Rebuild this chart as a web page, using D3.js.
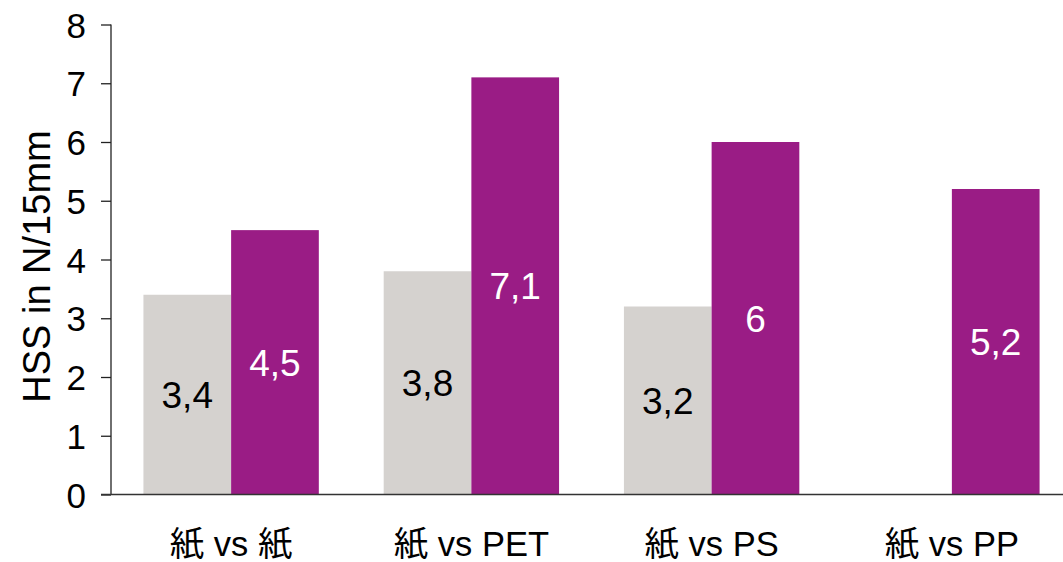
<!DOCTYPE html>
<html>
<head>
<meta charset="utf-8">
<script src="https://cdn.jsdelivr.net/npm/d3@7"></script>
<style>
  html, body { margin: 0; padding: 0; background: #fff; }
  svg { display: block; font-family: "Liberation Sans", Arial, "Noto Sans CJK JP", sans-serif; }
</style>
</head>
<body>
<svg id="chart" width="1063" height="562"></svg>
<script>
const categories = ["紙 vs 紙", "紙 vs PET", "紙 vs PS", "紙 vs PP"];
const seriesNames = ["gray", "purple"];
const grayValues = [3.4, 3.8, 3.2, null];
const purpleValues = [4.5, 7.1, 6.0, 5.2];
const grayLabels = ["3,4", "3,8", "3,2", null];
const purpleLabels = ["4,5", "7,1", "6", "5,2"];
const yTicks = [0, 1, 2, 3, 4, 5, 6, 7, 8];
const yTitle = "HSS in N/15mm";

(function () {
const svg = d3.select("#chart");
const W = 1063, H = 562;
const mLeft = 111, mRight = 1072, mTop = 24.5, mBottom = 494.5;

const x = d3.scaleBand().domain(categories).range([mLeft, mRight]).paddingInner(0.27).paddingOuter(0.135);
const xs = d3.scaleBand().domain(seriesNames).range([0, x.bandwidth()]);
const y = d3.scaleLinear().domain([0, 8]).range([mBottom, mTop]);

const colors = { gray: "#d5d2cf", purple: "#9a1c85" };
const labelColors = { gray: "#000", purple: "#fff" };

const rows = [];
categories.forEach((c, i) => {
  if (grayValues[i] != null) rows.push({ cat: c, s: "gray", v: grayValues[i], lab: grayLabels[i] });
  if (purpleValues[i] != null) rows.push({ cat: c, s: "purple", v: purpleValues[i], lab: purpleLabels[i] });
});

svg.append("g").selectAll("rect").data(rows).join("rect")
  .attr("x", d => x(d.cat) + xs(d.s))
  .attr("y", d => y(d.v))
  .attr("width", xs.bandwidth())
  .attr("height", d => y(0) - y(d.v))
  .attr("fill", d => colors[d.s]);

svg.append("g").selectAll("text").data(rows).join("text")
  .attr("x", d => x(d.cat) + xs(d.s) + xs.bandwidth() / 2)
  .attr("y", d => (y(d.v) + y(0)) / 2)
  .attr("dy", "0.36em")
  .attr("text-anchor", "middle")
  .attr("font-size", 37)
  .attr("fill", d => labelColors[d.s])
  .text(d => d.lab);

// y axis
const yAxis = d3.axisLeft(y).tickValues(yTicks).tickSize(10).tickPadding(15).tickFormat(d3.format("d"));
const gy = svg.append("g").attr("transform", `translate(${mLeft},0)`).call(yAxis);
gy.select(".domain").attr("stroke", "#222").attr("stroke-width", 1.3).attr("d", `M0,${mTop}H0V${mBottom}`);
gy.selectAll(".tick line").attr("stroke", "#222").attr("stroke-width", 1.3);
gy.selectAll(".tick text").attr("font-size", 35).attr("fill", "#000").attr("dy", "0.36em")
  .attr("font-family", "Liberation Sans, Arial, sans-serif");

// baseline
svg.append("line")
  .attr("x1", mLeft - 10).attr("x2", W)
  .attr("y1", y(0)).attr("y2", y(0))
  .attr("stroke", "#333").attr("stroke-width", 1.5);

// x labels
svg.append("g").selectAll("text").data(categories).join("text")
  .attr("x", d => x(d) + x.bandwidth() / 2)
  .attr("y", 556)
  .attr("text-anchor", "middle")
  .attr("font-size", 34.5)
  .attr("fill", "#000")
  .text(d => d);

// y title
svg.append("text")
  .attr("transform", `translate(50,${(128 + 405) / 2}) rotate(-90)`)
  .attr("text-anchor", "middle")
  .attr("font-size", 38)
  .attr("fill", "#000")
  .text(yTitle);
})();
</script>
</body>
</html>
